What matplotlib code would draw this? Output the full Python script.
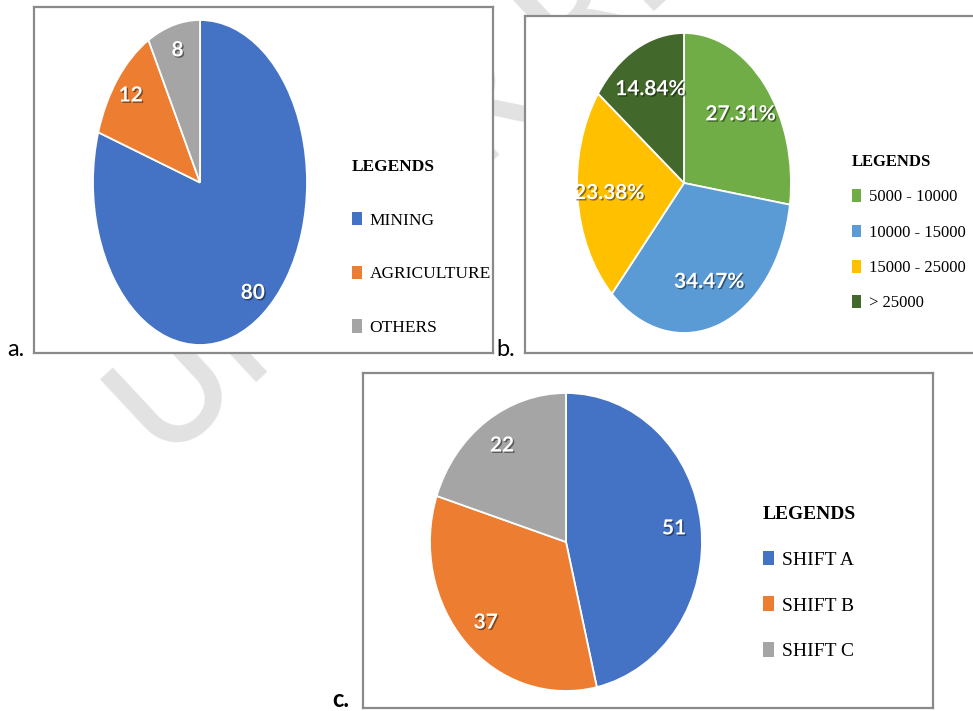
import matplotlib
matplotlib.use('Agg')
import matplotlib.pyplot as plt
import matplotlib.patheffects as pe

# --- Data -----------------------------------------------------------
sector_labels = ['MINING', 'AGRICULTURE', 'OTHERS']
sector_values = [80, 12, 8]

income_labels = ['5000 - 10000', '10000 - 15000', '15000 - 25000', '> 25000']
income_values = [27.31, 34.47, 23.38, 14.84]

shift_labels = ['SHIFT A', 'SHIFT B', 'SHIFT C']
shift_values = [51, 37, 22]

office_colors = ['#4472C4', '#ED7D31', '#A5A5A5']
income_colors = ['#70AD47', '#5B9BD5', '#FFC000', '#43682B']

W, H = 973, 711


def box(l, t, r, b):
    # pixel box (top-left origin) -> figure fraction rect
    return [l / W, 1 - b / H, (r - l) / W, (b - t) / H]


def panel(fig, frame, pie_box, values, labels, colors, fmt, pctdist,
          leg_xy, leg_size, leg_spacing, tag, tag_xy, tag_bold=False):
    fr = fig.add_axes(box(*frame), zorder=1)
    fr.set_facecolor('white')
    fr.set_xticks([])
    fr.set_yticks([])
    for s in fr.spines.values():
        s.set_color('#8a8a8a')
        s.set_linewidth(1.6)

    ax = fig.add_axes(box(*pie_box), zorder=2)
    total = sum(values)
    wedges, _, autotexts = ax.pie(values, colors=colors, startangle=90,
                                  counterclock=False,
                                  autopct=lambda p: fmt(p * total / 100.0),
                                  pctdistance=pctdist,
                                  wedgeprops=dict(edgecolor='white',
                                                  linewidth=1.3))
    ax.set_aspect('auto')
    ax.set_xlim(-1, 1)
    ax.set_ylim(-1, 1)
    ax.axis('off')
    for t in autotexts:
        t.set_color('white')
        t.set_fontfamily('Lato')
        t.set_fontweight('bold')
        t.set_fontsize(15)
        t.set_path_effects([pe.withSimplePatchShadow(offset=(1, -1),
                                                     shadow_rgbFace='black',
                                                     alpha=0.45)])

    leg = fig.legend(wedges, labels, loc='upper left',
                     bbox_to_anchor=(leg_xy[0] / W, 1 - leg_xy[1] / H),
                     frameon=False, title='LEGENDS', alignment='left',
                     prop=dict(family='Liberation Serif', size=leg_size),
                     title_fontproperties=dict(family='Liberation Serif',
                                               weight='bold', size=leg_size),
                     handlelength=0.55, handleheight=0.8, handletextpad=0.45,
                     labelspacing=leg_spacing, borderpad=0, borderaxespad=0)
    leg.set_zorder(3)
    for h in leg.legend_handles:
        h.set_edgecolor('none')

    fig.text(tag_xy[0] / W, 1 - tag_xy[1] / H, tag, fontsize=17,
             family='Lato', fontweight='bold' if tag_bold else 'normal',
             ha='left', va='baseline', zorder=3)


fig = plt.figure(figsize=(W / 100, H / 100), dpi=100)
fig.patch.set_facecolor('white')

# faint watermark behind the panels
fig.text(166 / W, 1 - 466 / H, 'UNDER REVIEW', rotation=43,
         rotation_mode='anchor', fontsize=108, fontweight='semibold',
         family='Lato', color='#e2e2e2', ha='left', va='baseline', zorder=0)

panel(fig, (34, 7, 493, 353), (93, 20, 307, 345),
      sector_values, sector_labels, office_colors,
      lambda v: f'{v:.0f}', 0.84, (352, 159), 12.5, 2.13, 'a.', (7, 356))

panel(fig, (525, 16, 976, 353), (577, 33, 791, 333),
      income_values, income_labels, income_colors,
      lambda v: f'{v:.2f}%', 0.7, (852, 154), 12, 1.15, 'b.', (496, 356))

panel(fig, (363, 373, 933, 708), (430, 393, 702, 691),
      shift_values, shift_labels, office_colors,
      lambda v: f'{v:.0f}', 0.8, (763, 506), 14, 1.42, 'c.', (332, 707),
      tag_bold=True)

fig.savefig('out.png', dpi=100, facecolor='white')
